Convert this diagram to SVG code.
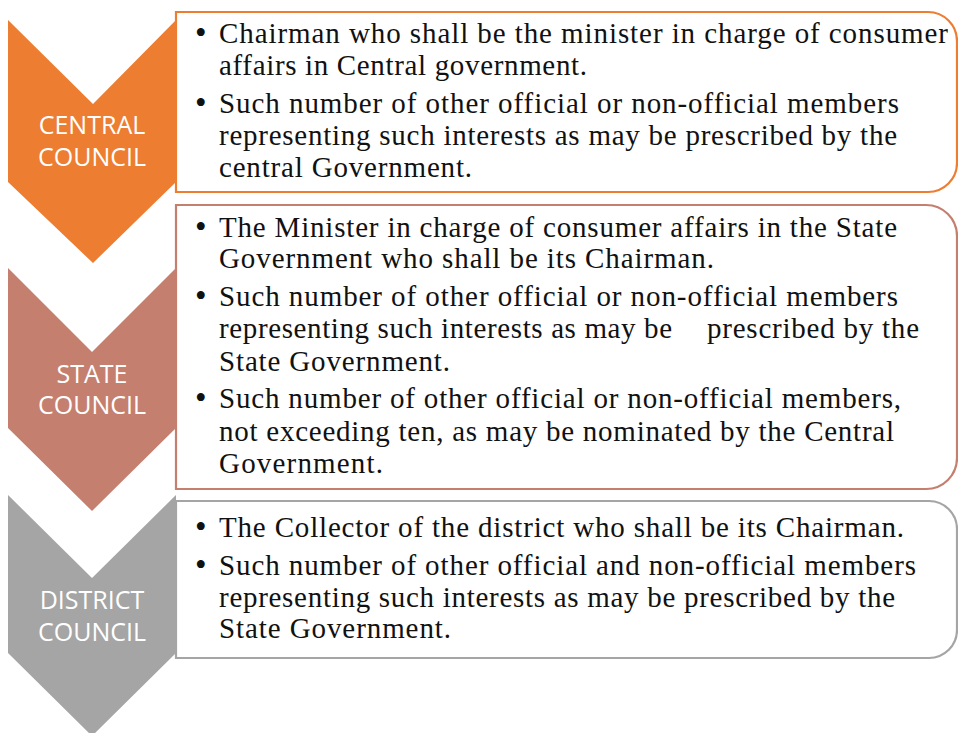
<svg xmlns="http://www.w3.org/2000/svg" width="958" height="733" viewBox="0 0 958 733">
  <style>
    .label { font-family: "Open Sans", "Liberation Sans", sans-serif; font-size: 25px; fill: #ffffff; text-anchor: middle; }
    .body { font-family: "Liberation Serif", "Times New Roman", serif; font-size: 29px; fill: #111111; }
    .dot { font-family: "Liberation Serif", "Times New Roman", serif; font-size: 33px; fill: #111111; }
    .box { fill: #ffffff; stroke-width: 2.2; }
    .central { fill: #ED7D31; }
    .state { fill: #C47F6F; }
    .district { fill: #A5A5A5; }
  </style>
  <rect width="958" height="733" fill="#ffffff"/>

  <!-- Central council: chevron and member list -->
  <g id="central-council">
    <polygon class="central" points="8,20 93,104 176,20 176,182 93,263 8,182"/>
    <text class="label" x="92" y="134">CENTRAL</text>
    <text class="label" x="92" y="166">COUNCIL</text>
    <path class="box" stroke="#ED7D31" d="M176,12 H928 A29,29 0 0 1 957,41 V163 A29,29 0 0 1 928,192 H176 Z"/>
    <text class="dot" x="195" y="44">•</text>
    <text class="body" x="219" y="43" textLength="729" lengthAdjust="spacing">Chairman who shall be the minister in charge of consumer</text>
    <text class="body" x="219" y="75" textLength="368" lengthAdjust="spacing">affairs in Central government.</text>
    <text class="dot" x="195" y="114">•</text>
    <text class="body" x="219" y="113" textLength="680" lengthAdjust="spacing">Such number of other official or non-official members</text>
    <text class="body" x="219" y="145" textLength="678" lengthAdjust="spacing">representing such interests as may be prescribed by the</text>
    <text class="body" x="219" y="177" textLength="253" lengthAdjust="spacing">central Government.</text>
  </g>

  <!-- State council: chevron and member list -->
  <g id="state-council">
    <polygon class="state" points="8,268 92,352 176,268 176,428 92,511 8,428"/>
    <text class="label" x="92" y="383">STATE</text>
    <text class="label" x="92" y="414">COUNCIL</text>
    <path class="box" stroke="#C47F6F" d="M176,205 H926 A31,31 0 0 1 957,236 V458 A31,31 0 0 1 926,489 H176 Z"/>
    <text class="dot" x="195" y="238">•</text>
    <text class="body" x="219" y="237" textLength="678" lengthAdjust="spacing">The Minister in charge of consumer affairs in the State</text>
    <text class="body" x="219" y="268" textLength="495" lengthAdjust="spacing">Government who shall be its Chairman.</text>
    <text class="dot" x="195" y="307">•</text>
    <text class="body" x="219" y="306" textLength="679" lengthAdjust="spacing">Such number of other official or non-official members</text>
    <text class="body" x="219" y="338" textLength="453" lengthAdjust="spacing">representing such interests as may be</text>
    <text class="body" x="707" y="338" textLength="212" lengthAdjust="spacing">prescribed by the</text>
    <text class="body" x="219" y="371" textLength="231" lengthAdjust="spacing">State Government.</text>
    <text class="dot" x="195" y="409">•</text>
    <text class="body" x="219" y="408" textLength="682" lengthAdjust="spacing">Such number of other official or non-official members,</text>
    <text class="body" x="219" y="441" textLength="675" lengthAdjust="spacing">not exceeding ten, as may be nominated by the Central</text>
    <text class="body" x="219" y="473" textLength="164" lengthAdjust="spacing">Government.</text>
  </g>

  <!-- District council: chevron and member list -->
  <g id="district-council">
    <polygon class="district" points="8,495 92,578 176,495 176,653 92,736 8,653"/>
    <text class="label" x="92" y="609">DISTRICT</text>
    <text class="label" x="92" y="641">COUNCIL</text>
    <path class="box" stroke="#A5A5A5" d="M176,501 H929 A28,28 0 0 1 957,529 V630 A28,28 0 0 1 929,658 H176 Z"/>
    <text class="dot" x="195" y="538">•</text>
    <text class="body" x="219" y="537" textLength="685" lengthAdjust="spacing">The Collector of the district who shall be its Chairman.</text>
    <text class="dot" x="195" y="576">•</text>
    <text class="body" x="219" y="575" textLength="697" lengthAdjust="spacing">Such number of other official and non-official members</text>
    <text class="body" x="219" y="607" textLength="676" lengthAdjust="spacing">representing such interests as may be prescribed by the</text>
    <text class="body" x="219" y="638" textLength="232" lengthAdjust="spacing">State Government.</text>
  </g>

  <!-- no connectors: the chevrons themselves carry the top-down flow -->
  <g id="connectors"/>
</svg>
